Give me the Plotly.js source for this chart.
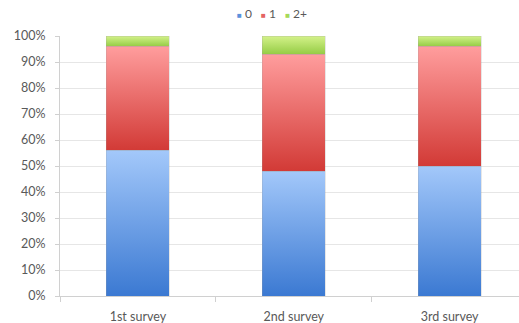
<!DOCTYPE html>
<html>
<head>
<meta charset="utf-8">
<script src="https://cdn.plot.ly/plotly-3.0.1.min.js"></script>
<style>html,body{margin:0;padding:0;background:#fff;}#chart{width:519px;height:323px;}</style>
</head>
<body>
<svg width="0" height="0" style="position:absolute">
  <defs>
    <linearGradient id="gBlue" x1="0" y1="1" x2="0" y2="0">
      <stop offset="0" stop-color="#3b79d2"/>
      <stop offset="1" stop-color="#a3c8fa"/>
    </linearGradient>
    <linearGradient id="gRed" x1="0" y1="1" x2="0" y2="0">
      <stop offset="0" stop-color="#d23a36"/>
      <stop offset="1" stop-color="#ff9d9d"/>
    </linearGradient>
    <linearGradient id="gGreen" x1="0" y1="1" x2="0" y2="0">
      <stop offset="0" stop-color="#95cc45"/>
      <stop offset="1" stop-color="#d4f28a"/>
    </linearGradient>
  </defs>
</svg>
<div id="chart"></div>
<script>
const categories = ["1st survey", "2nd survey", "3rd survey"];
const series0 = [56, 48, 50];
const series1 = [40, 45, 46];
const series2 = [4, 7, 4];
const seriesNames = ["0", "1", "2+"];
const yTickVals = [0, 10, 20, 30, 40, 50, 60, 70, 80, 90, 100];
const yTickText = ["0%", "10%", "20%", "30%", "40%", "50%", "60%", "70%", "80%", "90%", "100%"];

const colors = ["#6b9fe6", "#e96a68", "#b4de64"];
const legendColors = ["#5b91dc", "#e46462", "#a6d95a"];
const grads = ["gBlue", "gRed", "gGreen"];
const vals = [series0, series1, series2];

const data = vals.map((v, i) => ({
  type: "bar",
  name: seriesNames[i],
  x: categories,
  y: v,
  marker: { color: colors[i], line: { width: 0.5, color: "rgba(160,160,160,0.5)" } },
  hoverinfo: "none",
  showlegend: false
}));

const legendText = seriesNames.map((n, i) =>
  "<span style='color:" + legendColors[i] + ";font-size:8px'>■</span> " + n
).join("   ");

const layout = {
  width: 519,
  height: 323,
  barmode: "stack",
  bargap: 0.595,
  margin: { l: 60, r: 0, t: 36, b: 27 },
  paper_bgcolor: "#ffffff",
  plot_bgcolor: "#ffffff",
  font: { family: "Lato, 'Open Sans', sans-serif", size: 12.5, color: "#595959" },
  showlegend: false,
  annotations: [{
    xref: "paper", yref: "paper",
    x: 0.462, y: 1.085,
    xanchor: "center", yanchor: "middle",
    showarrow: false,
    text: legendText,
    font: { size: 12, color: "#595959" }
  }],
  xaxis: {
    type: "category",
    range: [-0.5, 2.445],
    showgrid: false,
    showline: true,
    linecolor: "#d0d0d0",
    linewidth: 1,
    ticks: "outside",
    tickson: "boundaries",
    ticklen: 5,
    tickcolor: "#d0d0d0",
    ticklabelstandoff: 9,
    fixedrange: true
  },
  yaxis: {
    range: [0, 100],
    tickvals: yTickVals,
    ticktext: yTickText,
    showgrid: true,
    gridcolor: "#e6e6e6",
    showline: true,
    linecolor: "#d0d0d0",
    ticks: "outside",
    ticklen: 4,
    tickcolor: "#d0d0d0",
    ticklabelstandoff: 7,
    zeroline: false,
    fixedrange: true
  }
};

Plotly.newPlot("chart", data, layout, { displayModeBar: false, staticPlot: true }).then(function () {
  const traces = document.querySelectorAll("#chart .barlayer .trace");
  traces.forEach(function (t, i) {
    t.querySelectorAll("path").forEach(function (p) {
      p.style.fill = "url(#" + grads[i] + ")";
    });
  });
});
</script>
</body>
</html>
